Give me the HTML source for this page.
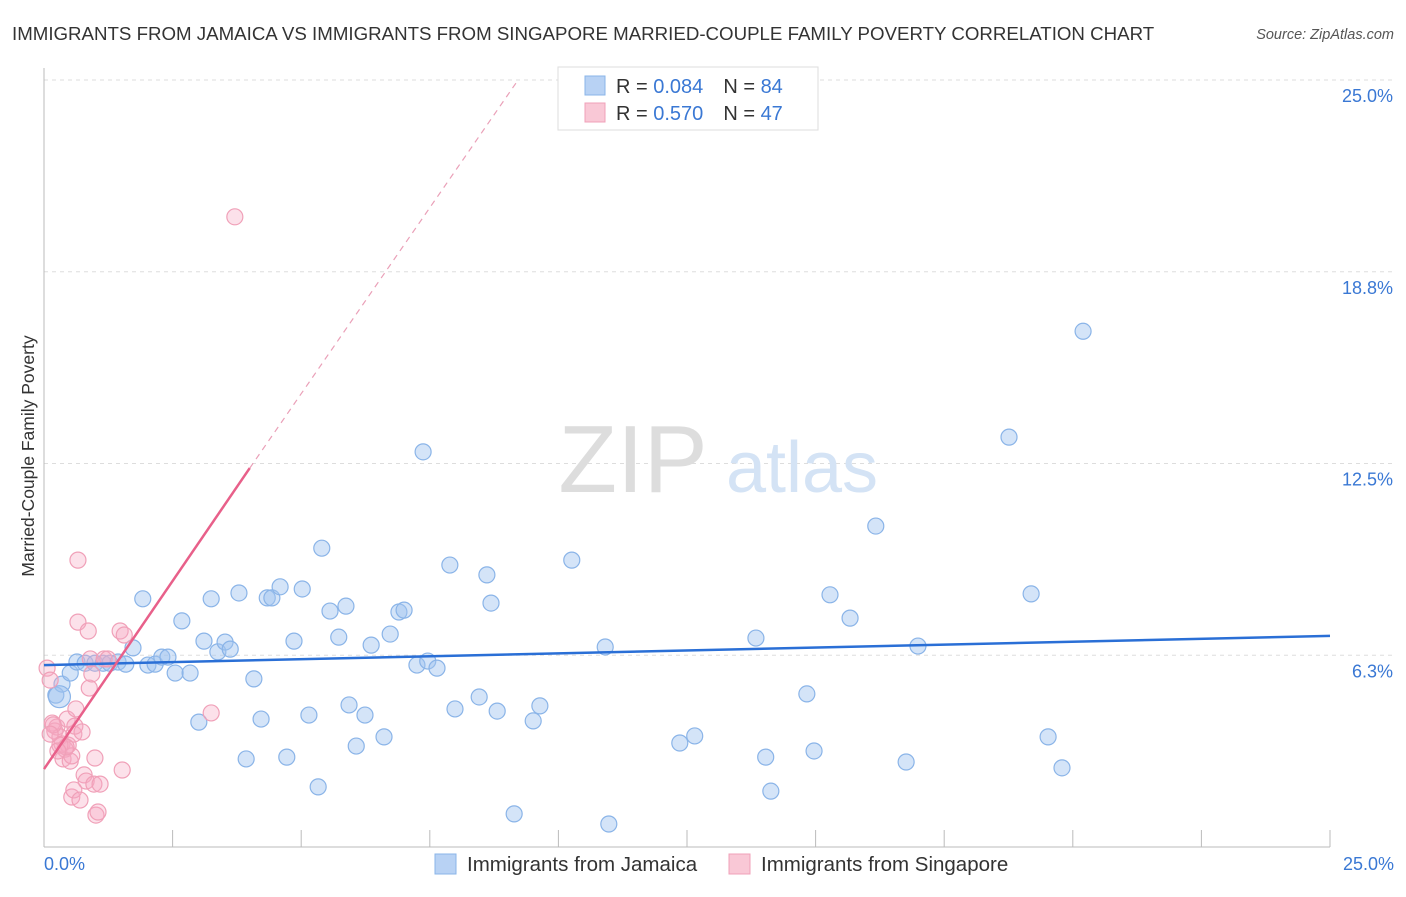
<!DOCTYPE html>
<html><head><meta charset="utf-8"><style>
body{margin:0;background:#fff;font-family:"Liberation Sans",sans-serif}
svg text{font-family:"Liberation Sans",sans-serif}
</style></head><body>
<svg id="c" width="1406" height="892">
<text x="12" y="40" font-size="18.7" fill="#333">IMMIGRANTS FROM JAMAICA VS IMMIGRANTS FROM SINGAPORE MARRIED-COUPLE FAMILY POVERTY CORRELATION CHART</text>
<text x="1394" y="39" font-size="14.5" fill="#555" text-anchor="end" font-style="italic">Source: ZipAtlas.com</text>
<g id="grid"></g>
<text x="633" y="492" font-size="96" fill="#ddd" font-family="Liberation Serif" text-anchor="middle">ZIP</text>
<text x="802" y="492" font-size="72" fill="#d4e3f5" text-anchor="middle">atlas</text>
<g id="pts"></g>
<text transform="translate(34,456) rotate(-90)" font-size="17.5" fill="#333" text-anchor="middle">Married-Couple Family Poverty</text>
<text x="44" y="870" font-size="18" fill="#3a78d4">0.0%</text>
<text x="1394" y="870" font-size="18" fill="#3a78d4" text-anchor="end">25.0%</text>
<g>
<rect x="558" y="67" width="260" height="63" fill="#fff" stroke="#ddd"/>
<rect x="585" y="76" width="20" height="19" fill="#b8d2f4" stroke="#8ab4e8"/>
<rect x="585" y="103" width="20" height="19" fill="#f9c8d6" stroke="#f0a0b8"/>
<text x="616" y="93" font-size="20" fill="#333">R = <tspan fill="#3a78d4">0.084</tspan><tspan dx="20">N = </tspan><tspan fill="#3a78d4">84</tspan></text>
<text x="616" y="120" font-size="20" fill="#333">R = <tspan fill="#3a78d4">0.570</tspan><tspan dx="20">N = </tspan><tspan fill="#3a78d4">47</tspan></text>
</g>
<g>
<rect x="435" y="854" width="21" height="20" fill="#b8d2f4" stroke="#8ab4e8"/>
<text x="467" y="871" font-size="20.5" fill="#333">Immigrants from Jamaica</text>
<rect x="729" y="854" width="21" height="20" fill="#f9c8d6" stroke="#f0a0b8"/>
<text x="761" y="871" font-size="20.5" fill="#333">Immigrants from Singapore</text>
</g>
</svg>
<script>
const yTicks=[6.25,12.5,18.75,25];
const yTickLabels=["6.3%","12.5%","18.8%","25.0%"];
const blueX=[0.23,0.35,0.51,0.64,0.80,0.99,1.15,1.28,1.44,1.59,1.73,1.92,2.02,2.16,2.29,2.41,2.55,2.68,2.84,3.01,3.11,3.25,3.38,3.52,3.62,3.79,3.93,4.08,4.22,4.34,4.43,4.59,4.72,4.86,5.02,5.15,5.33,5.40,5.56,5.73,5.87,5.93,6.07,6.24,6.36,6.61,6.73,6.90,7.00,7.25,7.37,7.46,7.64,7.89,7.99,8.46,8.61,8.69,8.81,9.14,9.51,9.64,10.26,10.91,10.98,12.36,12.65,13.84,14.03,14.13,14.83,14.97,15.28,15.67,16.17,16.76,16.99,18.76,19.19,19.52,19.79,20.20,0.30];
const blueY=[4.95,5.31,5.67,6.03,5.99,5.99,5.99,5.99,6.03,5.96,6.49,8.09,5.93,5.96,6.19,6.19,5.67,7.37,5.67,4.07,6.71,8.09,6.36,6.68,6.45,8.28,2.87,5.48,4.17,8.12,8.12,8.48,2.93,6.71,8.41,4.30,1.96,9.74,7.69,6.84,7.85,4.63,3.29,4.30,6.58,3.59,6.94,7.66,7.72,5.93,12.88,6.06,5.83,9.19,4.50,4.89,8.87,7.95,4.43,1.08,4.11,4.60,9.35,6.52,0.75,3.39,3.62,6.81,2.93,1.82,4.99,3.13,8.22,7.46,10.46,2.77,6.55,13.36,8.25,3.59,2.58,16.81,4.9];
const pinkX=[0.06,0.12,0.16,0.21,0.25,0.31,0.35,0.37,0.41,0.45,0.47,0.51,0.54,0.58,0.60,0.62,0.66,0.66,0.74,0.78,0.82,0.86,0.88,0.90,0.93,0.97,0.99,1.01,1.05,1.09,1.17,1.24,1.48,1.52,1.56,3.25,3.71,0.54,0.58,0.31,0.18,0.12,0.43,0.27,0.70];
const pinkY=[5.83,5.44,4.04,3.78,3.91,3.59,3.36,2.87,3.19,4.17,3.32,2.80,2.97,3.68,3.94,4.50,9.35,7.33,3.75,2.35,2.15,7.04,5.18,6.13,5.64,2.05,2.90,1.04,1.14,2.05,6.13,6.13,7.04,2.51,6.91,4.37,20.54,1.63,1.86,3.32,3.98,3.68,3.26,3.13,1.53];
const blueLine=[[0,5.93],[25,6.88]];
const pinkLine=[[0,2.54],[4.0,12.35]];
const pinkDash=[[4.0,12.35],[9.2,24.96]];
const X=v=>44+v/25*1286, Y=v=>847-v/25*767;
const NS="http://www.w3.org/2000/svg";
function mk(t,a,p){const e=document.createElementNS(NS,t);for(const k in a)e.setAttribute(k,a[k]);p.appendChild(e);return e;}
const g=document.getElementById('grid');
yTicks.forEach((t,i)=>{
 const l=mk('line',{x1:44,x2:1394,y1:Y(t),y2:Y(t),stroke:'#ddd','stroke-dasharray':'4,4'},g);
 
 
 const tx=mk('text',{x:1393,y:Y(t)+22,'font-size':18,fill:'#3a78d4','text-anchor':'end'},g);
 tx.textContent=yTickLabels[i];
 
 
});
const ax=mk('line',{x1:44,x2:1330,y1:847,y2:847,stroke:'#bbb'},g);


const ay=mk('line',{x1:44,x2:44,y1:68,y2:847,stroke:'#bbb'},g);


for(let i=0;i<=10;i++){const t=mk('line',{x1:X(i*2.5),x2:X(i*2.5),y1:830,y2:847,stroke:'#bbb'},g);
 
 }
const P=document.getElementById('pts');
blueX.forEach((v,i)=>{const c=mk('circle',{cx:X(v),cy:Y(blueY[i]),r:i==blueX.length-1?11:8,fill:'rgba(160,196,240,0.45)',stroke:'#8ab4e8','stroke-width':1.2},P);
 
 });
pinkX.forEach((v,i)=>{const c=mk('circle',{cx:X(v),cy:Y(pinkY[i]),r:8,fill:'rgba(246,170,196,0.35)',stroke:'#f0a0b8','stroke-width':1.2},P);
 
 });
const bl=mk('line',{x1:X(blueLine[0][0]),y1:Y(blueLine[0][1]),x2:X(blueLine[1][0]),y2:Y(blueLine[1][1]),stroke:'#2a6fd6','stroke-width':2.5},P);


const pl=mk('line',{x1:X(pinkLine[0][0]),y1:Y(pinkLine[0][1]),x2:X(pinkLine[1][0]),y2:Y(pinkLine[1][1]),stroke:'#e8608a','stroke-width':2.5},P);


const pd=mk('line',{x1:X(pinkDash[0][0]),y1:Y(pinkDash[0][1]),x2:X(pinkDash[1][0]),y2:Y(pinkDash[1][1]),stroke:'#eaa0b8','stroke-width':1.2,'stroke-dasharray':'6,5'},P);


</script>
</body></html>
